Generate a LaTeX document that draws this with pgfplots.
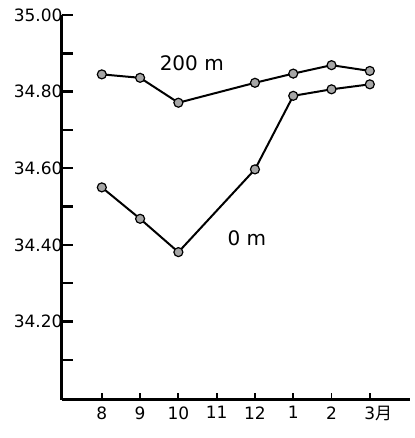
\documentclass[border=0pt]{standalone}
\usepackage{pgfplots}
\pgfplotsset{compat=1.18}
\usepackage{fontspec}
\setmainfont{DejaVu Sans}
\newfontfamily\cjk{Noto Sans CJK JP}
\begin{document}
\begin{tikzpicture}
\path[use as bounding box] (-62pt,-38pt) rectangle (352pt,400pt);
\begin{axis}[
  at={(0pt,0pt)}, anchor=south west,
  scale only axis, width=348pt, height=385pt,
  xmin=-1.04, xmax=8.05, ymin=33.995, ymax=35.0,
  axis lines=left, axis line style={-, line width=3pt, black},
  xtick={0,1,2,3,4,5,6,7},
  xticklabels={8,9,10,11,12,1,2,3\rlap{\cjk 月}},
  ytick={34.1,34.2,34.3,34.4,34.5,34.6,34.7,34.8,34.9,35.0},
  yticklabels={,34.20,,34.40,,34.60,,34.80,,35.00},
  tick align=inside,
  major tick length=11pt,
  xtick style={line width=1.8pt, black, /pgfplots/major tick length=7pt},
  ytick style={line width=2.4pt, black},
  xticklabel style={font=\fontsize{17}{17}\selectfont, yshift=-3pt},
  yticklabel style={font=\fontsize{17}{17}\selectfont, xshift=4pt},
  clip=false,
]
\addplot[black, line width=2pt, mark=*, mark size=4.5pt, mark options={fill=gray!70, draw=black, line width=1.2pt}]
coordinates {(0,34.845) (1,34.836) (2,34.771) (4,34.823) (5,34.847) (6,34.869) (7,34.854)};
\addplot[black, line width=2pt, mark=*, mark size=4.5pt, mark options={fill=gray!70, draw=black, line width=1.2pt}]
coordinates {(0,34.550) (1,34.468) (2,34.381) (4,34.597) (5,34.789) (6,34.806) (7,34.819)};
\node[font=\fontsize{20}{20}\selectfont] at (axis cs:2.35,34.875) {200 m};
\node[font=\fontsize{20}{20}\selectfont] at (axis cs:3.79,34.417) {0 m};
\end{axis}
\end{tikzpicture}
\end{document}
